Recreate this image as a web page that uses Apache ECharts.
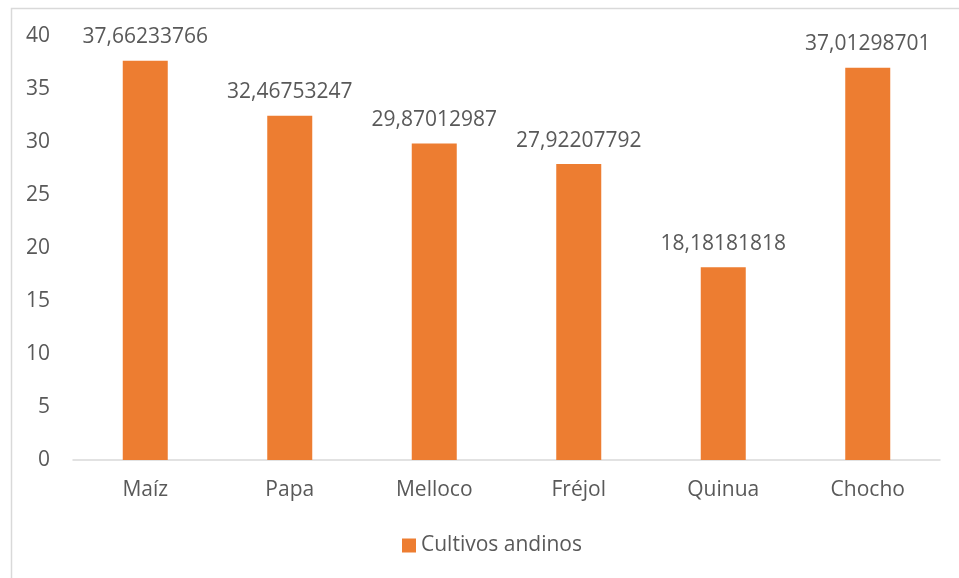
<!DOCTYPE html>
<html>
<head>
<meta charset="utf-8">
<script src="https://cdn.jsdelivr.net/npm/echarts@6/dist/echarts.min.js"></script>
<style>
  html, body { margin: 0; padding: 0; background: #fff; }
  #chart { width: 959px; height: 578px; }
</style>
</head>
<body>
<div id="chart"></div>
<script>
// Andean crops and their percentages
const categories = ['Maíz', 'Papa', 'Melloco', 'Fréjol', 'Quinua', 'Chocho'];
const values = [37.66233766, 32.46753247, 29.87012987, 27.92207792, 18.18181818, 37.01298701];
const seriesName = 'Cultivos andinos';

const FONT = '"Open Sans", "Noto Sans", sans-serif';
const TEXT = '#595959';
const ORANGE = '#ED7D31';
const SIZE = 21;

const chart = echarts.init(document.getElementById('chart'), null, { renderer: 'canvas' });

chart.setOption({
  backgroundColor: '#ffffff',
  animation: false,
  textStyle: { fontFamily: FONT },
  graphic: [{
    type: 'rect',
    left: 9, top: 6,
    shape: { width: 1000, height: 620 },
    style: { fill: 'none', stroke: '#d9d9d9', lineWidth: 1.5 },
    silent: true
  }],
  grid: { left: 73, right: 19, top: 36, bottom: 118, containLabel: false },
  legend: {
    bottom: 17,
    left: 397,
    itemWidth: 14,
    itemHeight: 14,
    itemGap: 6,
    icon: 'rect',
    textStyle: { color: TEXT, fontSize: SIZE, fontFamily: FONT },
    data: [seriesName]
  },
  xAxis: {
    type: 'category',
    data: categories,
    axisLine: { lineStyle: { color: '#d9d9d9', width: 1.5 } },
    axisTick: { show: false },
    axisLabel: { color: TEXT, fontSize: SIZE, fontFamily: FONT, margin: 20 }
  },
  yAxis: {
    type: 'value',
    min: 0, max: 40, interval: 5,
    splitLine: { show: false },
    axisLine: { show: false },
    axisTick: { show: false },
    axisLabel: { color: TEXT, fontSize: SIZE, fontFamily: FONT, margin: 23 }
  },
  series: [{
    name: seriesName,
    type: 'bar',
    data: values,
    barWidth: 45,
    itemStyle: { color: ORANGE },
    label: {
      show: true,
      position: 'top',
      distance: 13,
      color: TEXT,
      fontSize: SIZE,
      fontFamily: FONT,
      formatter: p => String(p.value).replace('.', ',')
    }
  }]
});
</script>
</body>
</html>
